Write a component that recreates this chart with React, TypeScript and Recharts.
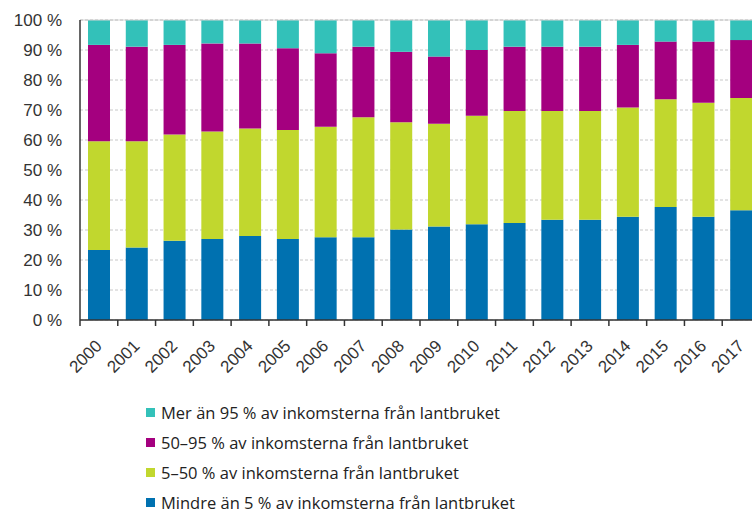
import React from "react";
import { BarChart, Bar, XAxis, YAxis, CartesianGrid, Legend, ReferenceLine } from "recharts";

const years = [
  "2000", "2001", "2002", "2003", "2004", "2005", "2006", "2007", "2008",
  "2009", "2010", "2011", "2012", "2013", "2014", "2015", "2016", "2017",
];

// andel jordbrukare efter hur stor del av inkomsterna som kommer från lantbruket (%)
const mindre5 = [23.3, 24.2, 26.4, 27.0, 28.0, 27.0, 27.6, 27.6, 30.2, 31.2, 31.9, 32.3, 33.4, 33.4, 34.4, 37.7, 34.4, 36.6];
const fem50 = [36.3, 35.4, 35.4, 35.8, 35.8, 36.3, 36.8, 40.0, 35.7, 34.2, 36.2, 37.4, 36.3, 36.3, 36.4, 35.9, 38.0, 37.4];
const femtio95 = [32.1, 31.5, 29.9, 29.4, 28.4, 27.3, 24.5, 23.5, 23.5, 22.4, 21.9, 21.4, 21.4, 21.4, 20.9, 19.2, 20.4, 19.3];
const mer95 = [8.3, 8.9, 8.3, 7.8, 7.8, 9.4, 11.1, 8.9, 10.6, 12.2, 10.0, 8.9, 8.9, 8.9, 8.3, 7.2, 7.2, 6.7];

const yTicks = [0, 10, 20, 30, 40, 50, 60, 70, 80, 90, 100];

const series = [
  { key: "mindre5", name: "Mindre än 5 % av inkomsterna från lantbruket", color: "#0071b0" },
  { key: "fem50", name: "5–50 % av inkomsterna från lantbruket", color: "#c1d72e" },
  { key: "femtio95", name: "50–95 % av inkomsterna från lantbruket", color: "#a4007f" },
  { key: "mer95", name: "Mer än 95 % av inkomsterna från lantbruket", color: "#33c1b9" },
];

const data = years.map((year, i) => ({
  year,
  mindre5: mindre5[i],
  fem50: fem50[i],
  femtio95: femtio95[i],
  mer95: mer95[i],
}));

const CHART_W = 770;
const LEFT = 80;
const RIGHT = 10;
const BAND = (CHART_W - LEFT - RIGHT) / years.length;
const FONT = '"Liberation Sans", Arial, sans-serif';

function YearTick(props: any) {
  const { x, y, payload } = props;
  const tx = x + 4;
  const ty = y + 21;
  return (
    <g>
      <line x1={x - BAND / 2} x2={x - BAND / 2} y1={y - 6} y2={y} stroke="#333" strokeWidth={1.5} />
      <text
        x={tx}
        y={ty}
        transform={`rotate(-45 ${tx} ${ty})`}
        textAnchor="end"
        fill="#333"
        fontSize={17}
        fontFamily={FONT}
      >
        {payload.value}
      </text>
    </g>
  );
}

function LegendList() {
  return (
    <div style={{ fontFamily: '"Open Sans", sans-serif', fontSize: 16.5, color: "#222" }}>
      {[...series].reverse().map((s) => (
        <div key={s.key} style={{ display: "flex", alignItems: "center", height: 30, whiteSpace: "nowrap" }}>
          <span style={{ width: 9, height: 9, background: s.color, marginRight: 6, display: "inline-block" }} />
          <span>{s.name}</span>
        </div>
      ))}
    </div>
  );
}

export default function App() {
  return (
    <div style={{ width: 752, height: 512, overflow: "hidden", position: "relative" }}>
      <style>{"body{margin:0;overflow:hidden}"}</style>
      <BarChart
        width={CHART_W}
        height={512}
        data={data}
        margin={{ top: 20, right: RIGHT, bottom: 112, left: 0 }}
        barSize={22}
      >
        <CartesianGrid vertical={false} stroke="#c8c8c8" strokeDasharray="3 2" />
        <ReferenceLine y={100} stroke="#d4d4d4" />
        <XAxis
          dataKey="year"
          height={80}
          tickLine={false}
          tickSize={6}
          tickMargin={0}
          interval={0}
          axisLine={{ stroke: "#333", strokeWidth: 1.5 }}
          tick={<YearTick />}
        />
        <YAxis
          width={LEFT}
          domain={[0, 100]}
          ticks={yTicks}
          tickFormatter={(v: number) => `${v} %`}
          tickLine={false}
          tickSize={0}
          tickMargin={18}
          axisLine={{ stroke: "#333", strokeWidth: 1.5 }}
          tick={{ fill: "#333", fontSize: 17, fontFamily: FONT }}
        />
        {series.map((s) => (
          <Bar key={s.key} dataKey={s.key} name={s.name} stackId="a" fill={s.color} isAnimationActive={false} />
        ))}
        <Legend
          layout="vertical"
          align="center"
          verticalAlign="middle"
          wrapperStyle={{ left: 146, top: 397, width: 520 }}
          content={() => <LegendList />}
        />
      </BarChart>
    </div>
  );
}
